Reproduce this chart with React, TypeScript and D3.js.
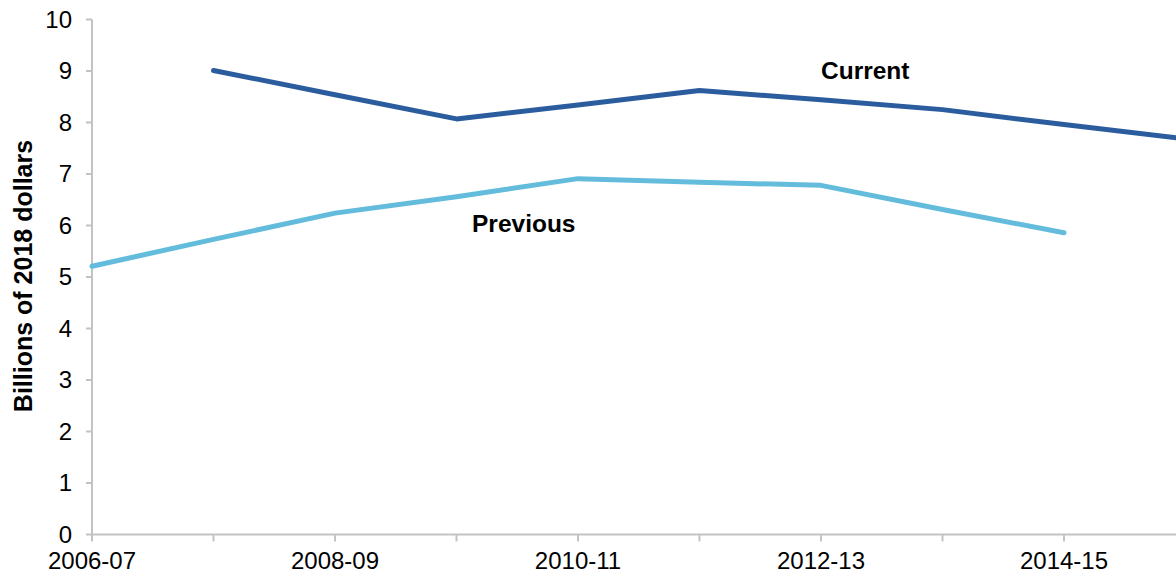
import React from "react";
import * as d3 from "d3";

const years = ["2006-07","2007-08","2008-09","2009-10","2010-11","2011-12","2012-13","2013-14","2014-15","2015-16"];
const currentValues: (number | null)[] = [null, 9.01, 8.54, 8.07, 8.34, 8.62, 8.44, 8.25, 7.96, 7.68];
const previousValues: (number | null)[] = [5.21, 5.73, 6.24, 6.56, 6.91, 6.84, 6.78, 6.31, 5.86, null];
const yTicks = [0,1,2,3,4,5,6,7,8,9,10];
const xLabelYears = ["2006-07","2008-09","2010-11","2012-13","2014-15"];

const W = 1176, H = 573;
const FONT = "'Liberation Sans', Arial, sans-serif";

export default function App() {
  const x = d3.scalePoint<string>().domain(years).range([92, 1185.5]);
  const y = d3.scaleLinear().domain([0, 10]).range([534.5, 19.5]);
  const line = d3.line<[string, number | null]>()
    .defined(d => d[1] != null)
    .x(d => x(d[0]) as number)
    .y(d => y(d[1] as number));
  const cur = line(years.map((yr, i) => [yr, currentValues[i]])) || "";
  const prev = line(years.map((yr, i) => [yr, previousValues[i]])) || "";
  const axisColor = "#c3c3c3";
  return (
    <svg width={W} height={H} style={{ position: "absolute", left: 0, top: 0, background: "#fff" }} fontFamily={FONT}>
      {/* y axis */}
      <line x1={92} x2={92} y1={y(10)} y2={y(0)} stroke={axisColor} strokeWidth={2} />
      {yTicks.map(t => (
        <g key={t}>
          <line x1={86} x2={92} y1={y(t)} y2={y(t)} stroke={axisColor} strokeWidth={2} />
          <text x={72} y={y(t)} dy="0.35em" textAnchor="end" fontSize={24} fill="#000">{t}</text>
        </g>
      ))}
      {/* x axis */}
      <line x1={92} x2={W} y1={y(0)} y2={y(0)} stroke={axisColor} strokeWidth={2} />
      {years.map(yr => (
        <line key={yr} x1={x(yr)} x2={x(yr)} y1={y(0)} y2={y(0) + 7} stroke={axisColor} strokeWidth={2} />
      ))}
      {xLabelYears.map(yr => (
        <text key={yr} x={x(yr)} y={569} textAnchor="middle" fontSize={24} fill="#000">{yr}</text>
      ))}
      <text transform="translate(32,276) rotate(-90)" textAnchor="middle" fontSize={25} fontWeight="bold" fill="#000">Billions of 2018 dollars</text>
      {/* lines */}
      <path d={prev} fill="none" stroke="#64bcdd" strokeWidth={5} strokeLinecap="round" strokeLinejoin="round" />
      <path d={cur} fill="none" stroke="#2b5d9e" strokeWidth={5} strokeLinecap="round" strokeLinejoin="round" />
      <text x={821} y={79} fontSize={24.5} fontWeight="bold" fill="#000">Current</text>
      <text x={472} y={232} fontSize={24.5} fontWeight="bold" fill="#000">Previous</text>
    </svg>
  );
}
